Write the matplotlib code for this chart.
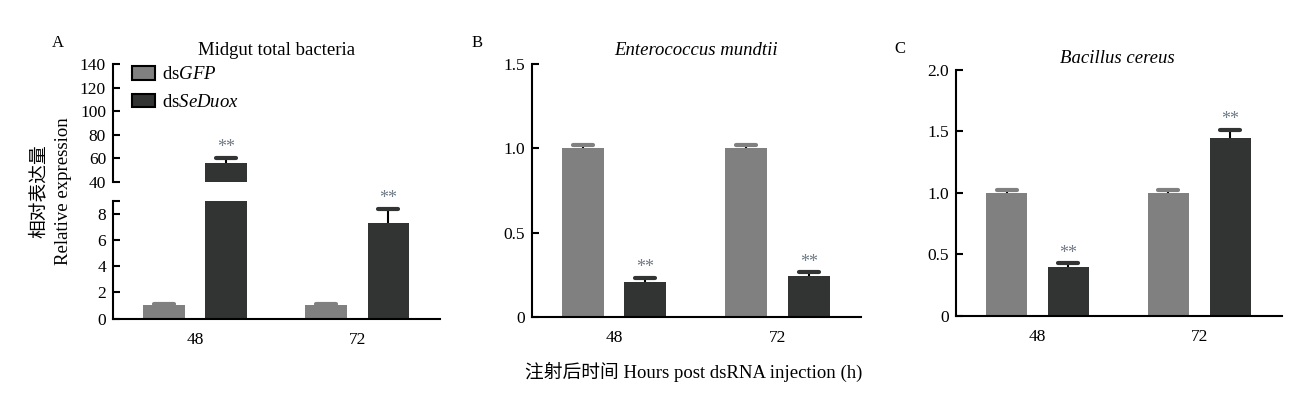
import matplotlib
matplotlib.use("Agg")
import matplotlib.pyplot as plt
from matplotlib.patches import Patch
import numpy as np

# ---------------- data ----------------
times = ["48", "72"]
series_names = ["ds$\\mathit{GFP}$", "ds$\\mathit{SeDuox}$"]

A_gfp = [1.05, 1.05]
A_gfp_err = [0.10, 0.10]
A_duox = [56.0, 7.3]
A_duox_err = [4.5, 1.1]

B_gfp = [1.0, 1.0]
B_gfp_err = [0.02, 0.02]
B_duox = [0.21, 0.245]
B_duox_err = [0.025, 0.02]

C_gfp = [1.0, 1.0]
C_gfp_err = [0.02, 0.02]
C_duox = [0.395, 1.445]
C_duox_err = [0.03, 0.07]

sig_A = ["**", "**"]
sig_B = ["**", "**"]
sig_C = ["**", "**"]

# ---------------- style ----------------
plt.rcParams["font.family"] = ["Liberation Serif", "Noto Sans CJK SC"]
plt.rcParams["mathtext.fontset"] = "custom"
plt.rcParams["mathtext.rm"] = "Liberation Serif"
plt.rcParams["mathtext.it"] = "Liberation Serif:italic"
plt.rcParams["mathtext.bf"] = "Liberation Serif:bold"

GFP_C = "#808080"
DUOX_C = "#323434"
STAR_C = "#6f7a86"
TICK_FS = 12.5
TXT_FS = 13.5

W, H = 1298, 393
fig = plt.figure(figsize=(W / 100, H / 100), dpi=100)


def rect(x0, x1, ytop, ybot):
    return [x0 / W, 1 - ybot / H, (x1 - x0) / W, (ybot - ytop) / H]


bw = 1.0
gfp_x = np.array([0.0, 3.9])
duox_x = gfp_x + 1.49
centers = (gfp_x + duox_x) / 2
xlim = (-0.5 - 0.72, duox_x[-1] + 0.5 + 0.74)


def style_axis(ax, bottom=True):
    for s in ["top", "right"]:
        ax.spines[s].set_visible(False)
    ax.spines["left"].set_linewidth(1.5)
    ax.spines["bottom"].set_linewidth(1.5)
    ax.spines["bottom"].set_visible(bottom)
    ax.tick_params(axis="y", direction="in", length=5, width=1.5,
                   labelsize=TICK_FS, pad=5)
    ax.tick_params(axis="x", length=0, labelsize=TICK_FS, pad=9.5)
    ax.set_xlim(*xlim)
    if bottom:
        ax.set_xticks(centers)
        ax.set_xticklabels(times)
    else:
        ax.set_xticks([])


def draw_bars(ax, gfp, gfp_err, duox, duox_err, sig):
    ax.bar(gfp_x, gfp, width=bw, color=GFP_C, zorder=2)
    ax.bar(duox_x, duox, width=bw, color=DUOX_C, zorder=2)
    hw = 0.24
    for xs, vals, errs, col in [(gfp_x, gfp, gfp_err, GFP_C),
                                (duox_x, duox, duox_err, DUOX_C)]:
        for x, v, e in zip(xs, vals, errs):
            ax.plot([x, x], [v, v + e], color="black", lw=1.5, zorder=3,
                    solid_capstyle="butt")
            ax.plot([x - hw, x + hw], [v + e, v + e], color=col, lw=3,
                    solid_capstyle="round", zorder=3)
    for x, v, e, s in zip(duox_x, duox, duox_err, sig):
        ax.annotate(s, xy=(x, v + e), xytext=(0, 1), textcoords="offset points",
                    ha="center", va="bottom", fontsize=13, color=STAR_C)


# ---------------- Panel A (broken axis) ----------------
axA_bot = fig.add_axes(rect(113, 440, 200.7, 318.7))
axA_top = fig.add_axes(rect(113, 440, 64.3, 181.7))
for ax in (axA_bot, axA_top):
    draw_bars(ax, A_gfp, A_gfp_err, A_duox, A_duox_err, sig_A)
axA_bot.set_ylim(0, 9)
axA_bot.set_yticks([0, 2, 4, 6, 8])
axA_bot.set_yticks([9], minor=True)
axA_top.set_ylim(40, 140)
axA_top.set_yticks([40, 60, 80, 100, 120, 140])
style_axis(axA_bot, bottom=True)
style_axis(axA_top, bottom=False)
axA_bot.tick_params(axis="y", which="minor", direction="in", length=5, width=1.5)
axA_bot.set_yticklabels(["0", "2", "4", "6", "8"])
axA_top.set_yticklabels(["40", "60", "80", "100", "120", "140"])

handles = [Patch(facecolor=GFP_C, edgecolor="black", linewidth=1.5),
           Patch(facecolor=DUOX_C, edgecolor="black", linewidth=1.5)]
fig.legend(handles, series_names, loc="upper left",
           bbox_to_anchor=(132 / W, 1 - 66 / H), frameon=False,
           fontsize=TXT_FS, handlelength=1.23, handleheight=0.75,
           handletextpad=0.35, labelspacing=0.55, borderpad=0,
           borderaxespad=0)

# ---------------- Panel B ----------------
axB = fig.add_axes(rect(531.7, 860.7, 63.7, 317.3))
draw_bars(axB, B_gfp, B_gfp_err, B_duox, B_duox_err, sig_B)
axB.set_ylim(0, 1.5)
axB.set_yticks([0, 0.5, 1.0, 1.5])
axB.set_yticklabels(["0", "0.5", "1.0", "1.5"])
style_axis(axB)

# ---------------- Panel C ----------------
axC = fig.add_axes(rect(956, 1281.7, 70, 315.7))
draw_bars(axC, C_gfp, C_gfp_err, C_duox, C_duox_err, sig_C)
axC.set_ylim(0, 2.0)
axC.set_yticks([0, 0.5, 1.0, 1.5, 2.0])
axC.set_yticklabels(["0", "0.5", "1.0", "1.5", "2.0"])
style_axis(axC)

# ---------------- texts ----------------
def ftext(x, y, s, **kw):
    fig.text(x / W, 1 - y / H, s, **kw)

ftext(58, 46.7, "A", fontsize=12, ha="center", va="baseline")
ftext(477, 46.7, "B", fontsize=12, ha="center", va="baseline")
ftext(900, 52.7, "C", fontsize=12, ha="center", va="baseline")

ftext(276.5, 55, "Midgut total bacteria", fontsize=TXT_FS, ha="center", va="baseline")
ftext(696, 55, "Enterococcus mundtii", fontsize=TXT_FS, ha="center", va="baseline",
      style="italic")
ftext(1117, 63.3, "Bacillus cereus", fontsize=TXT_FS, ha="center", va="baseline",
      style="italic")

ftext(694, 378, "注射后时间 Hours post dsRNA injection (h)", fontsize=TXT_FS,
      ha="center", va="baseline")
ftext(39, 191, "相对表达量", fontsize=TXT_FS, ha="center", va="center",
      rotation=90)
ftext(63, 191, "Relative expression", fontsize=TXT_FS, ha="center", va="center",
      rotation=90)

fig.savefig("out.png", dpi=100)
